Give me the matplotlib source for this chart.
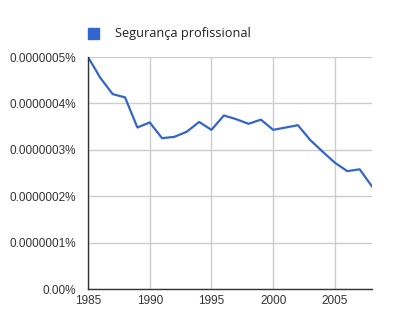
import matplotlib
matplotlib.use("Agg")
import matplotlib.pyplot as plt
from matplotlib.patches import Rectangle

years = list(range(1985, 2009))
values = [0.500, 0.455, 0.420, 0.413, 0.348, 0.359, 0.325, 0.328, 0.339, 0.360,
          0.343, 0.374, 0.366, 0.356, 0.365, 0.343, 0.348, 0.353, 0.321, 0.296,
          0.272, 0.254, 0.258, 0.221]
values = [v * 1e-6 for v in values]
series_name = "Segurança profissional"
ytick_vals = [0, 1e-7, 2e-7, 3e-7, 4e-7, 5e-7]
ytick_labels = ["0.00%", "0.0000001%", "0.0000002%", "0.0000003%", "0.0000004%", "0.0000005%"]
xtick_vals = [1985, 1990, 1995, 2000, 2005]

fig = plt.figure(figsize=(3.95, 3.12), dpi=100)
ax = fig.add_axes([88/395, 23/312, (372-88)/395, (289-57)/312])
ax.plot(years, values, color="#3366cc", lw=1.6)
ax.set_xlim(1985, 2008)
ax.set_ylim(0, 5e-7)
ax.set_yticks(ytick_vals)
ax.set_yticklabels(ytick_labels)
ax.set_xticks(xtick_vals)
ax.grid(True, color="#cccccc", lw=1)
ax.set_axisbelow(True)
for s in ["top", "right"]:
    ax.spines[s].set_visible(False)
for s in ["left", "bottom"]:
    ax.spines[s].set_color("#333333")
    ax.spines[s].set_linewidth(1)
ax.tick_params(length=0, labelsize=8.5, labelcolor="#333333")
ax.tick_params(axis="y", pad=8.5)
ax.tick_params(axis="x", pad=4)
for lab in ax.get_xticklabels() + ax.get_yticklabels():
    lab.set_fontfamily("Liberation Sans")

fig.patches.append(Rectangle((88/395, (312-39)/312), 11/395, 11/312,
                             transform=fig.transFigure, color="#3366cc"))
fig.text(115/395, (312-34)/312, series_name, fontsize=9.2, family="Open Sans",
         va="center", ha="left", color="#222222")

fig.savefig("out.png", dpi=100)
